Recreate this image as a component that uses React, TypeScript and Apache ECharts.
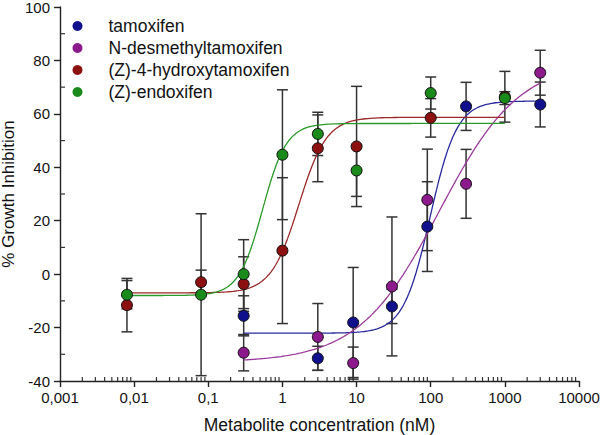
import React, { useEffect, useRef } from "react";
import * as echarts from "echarts";

const FONT = '"Liberation Sans", Arial, Helvetica, sans-serif';

const seriesNames = [
  "tamoxifen",
  "N-desmethyltamoxifen",
  "(Z)-4-hydroxytamoxifen",
  "(Z)-endoxifen",
];
const seriesColors = ["#10108c", "#8c1a8c", "#8c1010", "#1a8a1a"];
const curveColors = ["#2a2aa0", "#9a3a9a", "#9a2a2a", "#2a9a2a"];

// measured points (concentration nM, mean % inhibition, SD)
const tamoxifenConc = [0.3, 3, 9, 30, 90, 300, 3000];
const tamoxifenMean = [-15.6, -31.5, -18.1, -12.1, 17.8, 62.8, 63.5];
const tamoxifenSD = [7.5, 4.5, 20.6, 6.4, 16.8, 9, 8.4];

const ndmConc = [0.3, 3, 9, 30, 90, 300, 3000];
const ndmMean = [-29.4, -23.5, -33.3, -4.6, 27.8, 33.8, 75.4];
const ndmSD = [6.8, 12.5, 6, 26, 19, 12.9, 8.4];

const hydroxyConc = [0.008, 0.08, 0.3, 1, 3, 10, 100, 1000];
const hydroxyMean = [-11.6, -3.0, -3.7, 8.8, 47.1, 47.8, 58.5, 66.4];
const hydroxySD = [10, 4.5, 10.2, 27.3, 12.5, 22.5, 7.2, 9.5];

const endoxifenConc = [0.008, 0.08, 0.3, 1, 3, 10, 100, 1000];
const endoxifenMean = [-7.7, -7.7, 0, 44.7, 52.5, 38.8, 67.8, 65.9];
const endoxifenSD = [5.3, 30.3, 12.9, 24.3, 8.1, 9.7, 6, 2.4];

// fitted four-parameter logistic curves
const curveBottom = [-22.1, -33, -7, -8];
const curveTop = [64.8, 80, 58.7, 56.4];
const curveEC50 = [98, 130, 1.66, 0.54];
const curveHill = [2.4, 0.8, 2.32, 2.7];
const curveFrom = [0.3, 0.3, 0.008, 0.008];
const curveTo = [3000, 3000, 1000, 1000];

// axis ticks
const xTickLabels = ["0,001", "0,01", "0,1", "1", "10", "100", "1000", "10000"];
const yMin = -40;
const yMax = 100;
const yStep = 20;

const groups = [
  { conc: tamoxifenConc, mean: tamoxifenMean, sd: tamoxifenSD },
  { conc: ndmConc, mean: ndmMean, sd: ndmSD },
  { conc: hydroxyConc, mean: hydroxyMean, sd: hydroxySD },
  { conc: endoxifenConc, mean: endoxifenMean, sd: endoxifenSD },
];

function curvePoints(i: number): number[][] {
  const pts: number[][] = [];
  const a = Math.log10(curveFrom[i]);
  const b = Math.log10(curveTo[i]);
  const n = 160;
  for (let k = 0; k <= n; k++) {
    const x = Math.pow(10, a + ((b - a) * k) / n);
    const y =
      curveBottom[i] +
      (curveTop[i] - curveBottom[i]) / (1 + Math.pow(curveEC50[i] / x, curveHill[i]));
    pts.push([x, y]);
  }
  return pts;
}

export default function App() {
  const ref = useRef<HTMLDivElement>(null);

  useEffect(() => {
    if (!ref.current) return;
    const chart = echarts.init(ref.current, null, { renderer: "svg" });

    const xMinor: number[][] = [];
    for (let e = -3; e <= 3; e++) {
      for (let m = 2; m <= 9; m++) xMinor.push([m * Math.pow(10, e), yMin]);
    }
    const yMinor: number[][] = [];
    for (let v = yMin + yStep / 2; v < yMax; v += yStep) yMinor.push([0.001, v]);

    const errSeries = groups.map((g, gi) => ({
      type: "custom",
      name: "err" + gi,
      coordinateSystem: "cartesian2d",
      silent: true,
      z: 1,
      clip: false,
      data: g.conc.map((c, j) => [c, g.mean[j] - g.sd[j], g.mean[j] + g.sd[j]]),
      encode: { x: 0, y: [1, 2] },
      renderItem: (params: any, api: any) => {
        const x = api.value(0);
        const lo = api.coord([x, api.value(1)]);
        const hi = api.coord([x, api.value(2)]);
        const w = 5.5;
        const style = { stroke: "#333", lineWidth: 1.5 };
        return {
          type: "group",
          children: [
            { type: "line", shape: { x1: lo[0], y1: lo[1], x2: hi[0], y2: hi[1] }, style },
            { type: "line", shape: { x1: lo[0] - w, y1: lo[1], x2: lo[0] + w, y2: lo[1] }, style },
            { type: "line", shape: { x1: hi[0] - w, y1: hi[1], x2: hi[0] + w, y2: hi[1] }, style },
          ],
        };
      },
    }));

    const curveSeries = groups.map((_, gi) => ({
      type: "line",
      name: "fit " + seriesNames[gi],
      data: curvePoints(gi),
      showSymbol: false,
      silent: true,
      z: 2,
      lineStyle: { color: curveColors[gi], width: 1.3 },
    }));

    const scatterSeries = groups.map((g, gi) => ({
      type: "scatter",
      name: seriesNames[gi],
      data: g.conc.map((c, j) => [c, g.mean[j]]),
      symbol: "circle",
      symbolSize: 11,
      z: 3,
      itemStyle: { color: seriesColors[gi], borderColor: "#111", borderWidth: 1, opacity: 1 },
    }));

    const minorSeries = [
      {
        type: "custom",
        name: "xminor",
        coordinateSystem: "cartesian2d",
        silent: true,
        clip: false,
        z: 4,
        data: xMinor,
        renderItem: (params: any, api: any) => {
          const p = api.coord([api.value(0), api.value(1)]);
          return {
            type: "line",
            shape: { x1: p[0], y1: p[1], x2: p[0], y2: p[1] - 4 },
            style: { stroke: "#333", lineWidth: 1.2 },
          };
        },
      },
      {
        type: "custom",
        name: "yminor",
        coordinateSystem: "cartesian2d",
        silent: true,
        clip: false,
        z: 4,
        data: yMinor,
        renderItem: (params: any, api: any) => {
          const p = api.coord([api.value(0), api.value(1)]);
          return {
            type: "line",
            shape: { x1: p[0], y1: p[1], x2: p[0] + 5, y2: p[1] },
            style: { stroke: "#333", lineWidth: 1.2 },
          };
        },
      },
    ];

    chart.setOption({
      animation: false,
      backgroundColor: "#fff",
      textStyle: { fontFamily: FONT },
      grid: { left: 60, right: 21, top: 7, bottom: 54, containLabel: false, outerBoundsMode: "none" },
      legend: {
        data: seriesNames,
        orient: "vertical",
        left: 72.5,
        top: 16,
        padding: 0,
        itemWidth: 10,
        itemHeight: 10,
        itemGap: 2,
        icon: "circle",
        selectedMode: false,
        itemStyle: { borderWidth: 0 },
        textStyle: {
          fontSize: 17.5,
          fontFamily: FONT,
          color: "#111",
          lineHeight: 20,
          padding: [0, 0, 0, 21],
        },
      },
      xAxis: {
        type: "log",
        logBase: 10,
        min: 0.001,
        max: 10000,
        name: "Metabolite concentration (nM)",
        nameLocation: "middle",
        nameGap: 35,
        nameMoveOverlap: false,
        nameTextStyle: { fontSize: 17.5, color: "#111", fontFamily: FONT },
        axisLine: { show: true, onZero: false, lineStyle: { color: "#222", width: 1.4 } },
        axisTick: { show: true, inside: false, length: 6, lineStyle: { color: "#222", width: 1.4 } },
        axisLabel: {
          fontSize: 15,
          color: "#111",
          margin: 9,
          fontFamily: FONT,
          formatter: (v: number) => xTickLabels[Math.round(Math.log10(v)) + 3],
        },
        splitLine: { show: false },
        minorTick: { show: false },
      },
      yAxis: {
        type: "value",
        min: yMin,
        max: yMax,
        interval: yStep,
        name: "% Growth Inhibition",
        nameLocation: "middle",
        nameGap: 43,
        nameMoveOverlap: false,
        nameTextStyle: { fontSize: 17, lineHeight: 17, color: "#111", fontFamily: FONT },
        axisLine: { show: true, onZero: false, lineStyle: { color: "#222", width: 1.4 } },
        axisTick: { show: true, inside: false, length: 6, lineStyle: { color: "#222", width: 1.4 } },
        axisLabel: { fontSize: 15, color: "#111", margin: 10, fontFamily: FONT },
        splitLine: { show: false },
      },
      series: [...errSeries, ...curveSeries, ...scatterSeries, ...minorSeries],
    } as any);

    return () => chart.dispose();
  }, []);

  return (
    <div
      ref={ref}
      style={{ position: "fixed", left: 0, top: 0, width: 600, height: 435, background: "#fff" }}
    />
  );
}
